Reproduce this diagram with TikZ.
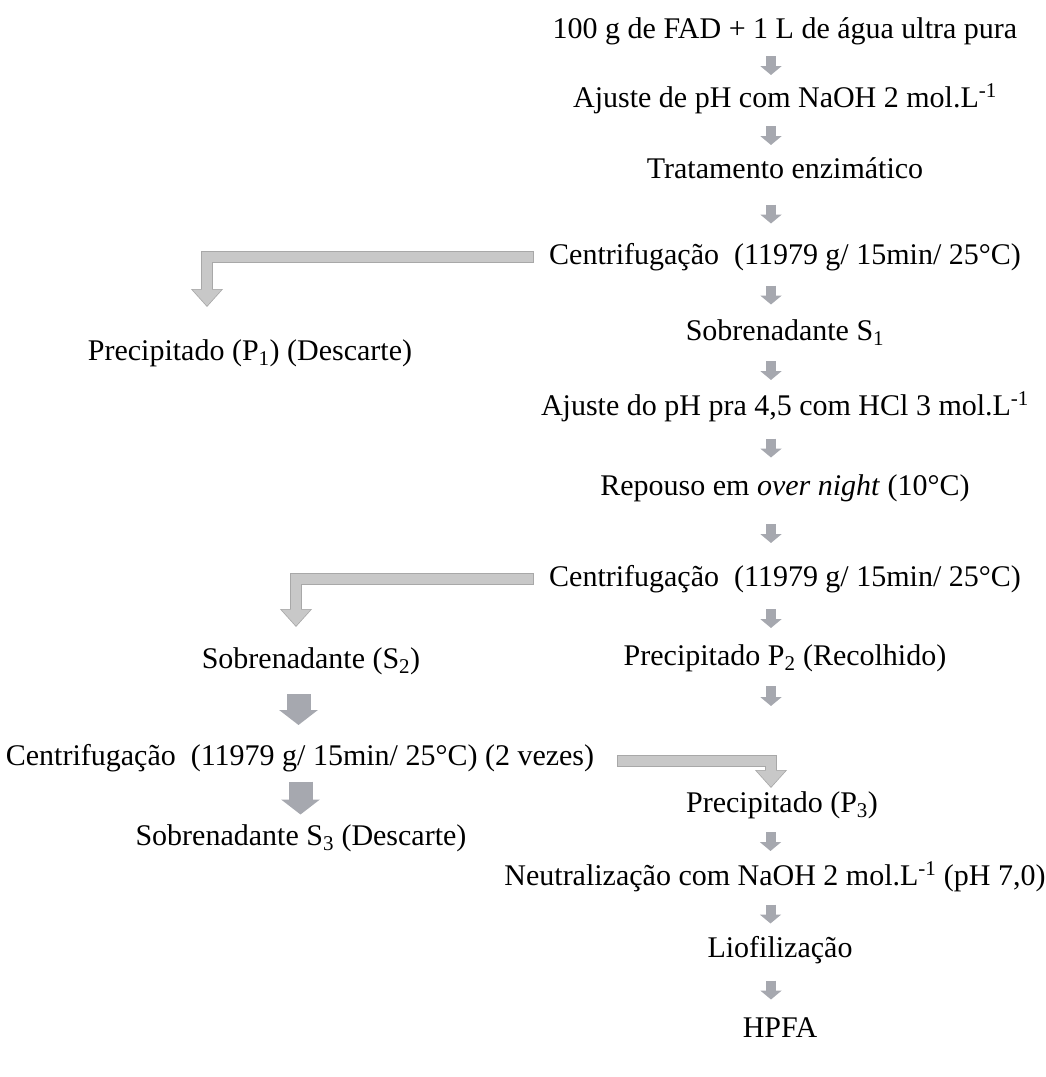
\documentclass[tikz,border=0pt]{standalone}
\usepackage{fontspec}
\setmainfont{Liberation Serif}
\usetikzlibrary{arrows.meta,calc}
\definecolor{cinzaseta}{RGB}{166,168,175}
\definecolor{cinzadobra}{RGB}{200,200,200}
\definecolor{bordadobra}{RGB}{168,168,168}
\tikzset{
  rotulo/.style={inner sep=0pt, text height=20pt, text depth=6pt, anchor=base},
  seta/.style={cinzaseta, line width=10pt, -{Triangle[width=21pt,length=9pt]}},
  setagrande/.style={cinzaseta, line width=24pt, -{Triangle[width=38pt,length=15pt]}},
  dobrafora/.style={bordadobra, line width=11.5pt, -{Triangle[width=31pt,length=18pt]}},
  dobradentro/.style={cinzadobra, line width=9.5pt, shorten >=1.2pt, shorten <=0.8pt, -{Triangle[width=28pt,length=16.2pt]}}
}
\begin{document}
\begin{tikzpicture}[x=1pt,y=-1pt,font=\fontsize{30}{36}\selectfont]
    \useasboundingbox (0,0) rectangle (1045,1077);
    % coluna da direita
    \node[rotulo] (fad) at (785,38) {100 g de FAD + 1 L de água ultra pura};
    \node[rotulo] (ajuste) at (785,107) {Ajuste de pH com NaOH 2 mol.L\textsuperscript{-1}};
    \node[rotulo] (enzima) at (785,178) {Tratamento enzimático};
    \node[rotulo] (centA) at (785,264) {Centrifugação\ \ (11979 g/ 15min/ 25°C)};
    \node[rotulo] (sobreA) at (785,340) {Sobrenadante S\textsubscript{1}};
    \node[rotulo] (ajusteHcl) at (785,415) {Ajuste do pH pra 4,5 com HCl 3 mol.L\textsuperscript{-1}};
    \node[rotulo] (repouso) at (785,495) {Repouso em \textit{over night} (10°C)};
    \node[rotulo] (centB) at (785,586) {Centrifugação\ \ (11979 g/ 15min/ 25°C)};
    \node[rotulo] (precB) at (785,665) {Precipitado P\textsubscript{2} (Recolhido)};
    \node[rotulo] (precC) at (782,812) {Precipitado (P\textsubscript{3})};
    \node[rotulo] (neutra) at (775,885) {Neutralização com NaOH 2 mol.L\textsuperscript{-1} (pH 7,0)};
    \node[rotulo] (liof) at (780,957) {Liofilização};
    \node[rotulo] (hpfa) at (780,1037) {HPFA};
    % coluna da esquerda
    \node[rotulo] (precA) at (250,360) {Precipitado (P\textsubscript{1}) (Descarte)};
    \node[rotulo] (sobreB) at (311,668) {Sobrenadante (S\textsubscript{2})};
    \node[rotulo] (centC) at (300,765) {Centrifugação\ \ (11979 g/ 15min/ 25°C) (2 vezes)};
    \node[rotulo] (sobreC) at (301,845) {Sobrenadante S\textsubscript{3} (Descarte)};

    \foreach \a/\b/\d in {fad/ajuste/-14, ajuste/enzima/-14, enzima/centA/-14, centA/sobreA/-14,
                          sobreA/ajusteHcl/-14, ajusteHcl/repouso/-14, repouso/centB/-14,
                          centB/precB/-14, precC/neutra/-8, neutra/liof/-7, liof/hpfa/-9}
        \draw[seta] ($(\a.south)!.5!(\b.north)+(\d,0)$) ++(0,-9.5) -- ++(0,19);
    \coordinate (baixoB) at (771,706);
    \draw[seta] ([xshift=-14pt,yshift=-21pt]precB.base) -- (baixoB);

    \draw[setagrande] ($(sobreB.south)!.5!(centC.north)+(-7,0)$) ++(0,-15.5) -- ++(0,31);
    \draw[setagrande] ($(centC.south)!.5!(sobreC.north)$) ++(0,-16.5) -- ++(0,33);

    % setas dobradas
    \coordinate (fimA) at (207,307);
    \coordinate (fimB) at (296,627);
    \coordinate (fimC) at (771,788);
    \foreach \s in {dobrafora, dobradentro} {
        \draw[\s] ([xshift=-15pt]centA.west) -| (fimA);
        \draw[\s] ([xshift=-15pt]centB.west) -| (fimB);
        \draw[\s] ([xshift=23pt,yshift=-3pt]centC.east) -| (fimC);
    }
\end{tikzpicture}
\end{document}
